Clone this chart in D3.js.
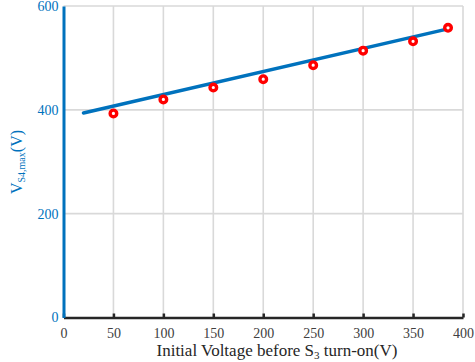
<!DOCTYPE html>
<html>
<head>
<meta charset="utf-8">
<script src="https://d3js.org/d3.v7.min.js"></script>
<style>
  body { margin: 0; background: #fff; }
  text { font-family: "Liberation Serif", "Times New Roman", serif; }
</style>
</head>
<body>
<div id="chart"></div>
<script>
// measured points
var xVals = [50, 100, 150, 200, 250, 300, 350, 385];
var yVals = [393, 420, 443, 459, 486, 514, 532, 558];
// fitted line
var fitX = [20, 385];
var fitY = [394, 556];
var xTicks = [0, 50, 100, 150, 200, 250, 300, 350, 400];
var yTicks = [0, 200, 400, 600];

var W = 475, H = 362;
var blue = "#0072BD";
var svg = d3.select("#chart").append("svg").attr("width", W).attr("height", H);

var x = d3.scaleLinear().domain([0, 400]).range([63.5, 463]);
var y = d3.scaleLinear().domain([0, 600]).range([317.5, 6]);

// grid
svg.append("g").selectAll("line").data(xTicks.slice(1)).enter().append("line")
  .attr("x1", d => x(d)).attr("x2", d => x(d))
  .attr("y1", y(0)).attr("y2", y(600))
  .attr("stroke", "#d9d9d9").attr("stroke-width", 1.6);
svg.append("g").selectAll("line").data(yTicks.slice(1)).enter().append("line")
  .attr("x1", x(0)).attr("x2", x(400))
  .attr("y1", d => y(d)).attr("y2", d => y(d))
  .attr("stroke", "#d9d9d9").attr("stroke-width", 1.6);

// x axis
var xAxis = svg.append("g").attr("transform", "translate(0," + y(0) + ")")
  .call(d3.axisBottom(x).tickValues(xTicks).tickSizeInner(-4).tickSizeOuter(0).tickPadding(11));
xAxis.select(".domain").attr("stroke", "#262626").attr("stroke-width", 2.5);
xAxis.selectAll(".tick line").attr("stroke", "#262626").attr("stroke-width", 2.5);
xAxis.selectAll("text").attr("fill", "#404040").style("font-size", "14px")
  .style("font-family", "Liberation Serif");

// y axis
var yAxis = svg.append("g").attr("transform", "translate(" + x(0) + ",0)")
  .call(d3.axisLeft(y).tickValues(yTicks).tickSize(0).tickPadding(5));
yAxis.select(".domain").attr("stroke", blue).attr("stroke-width", 3);
yAxis.selectAll("text").attr("fill", blue).style("font-size", "14px")
  .style("font-family", "Liberation Serif");

// fit line
svg.append("path")
  .datum(fitX.map((d, i) => [d, fitY[i]]))
  .attr("fill", "none").attr("stroke", blue).attr("stroke-width", 3.5)
  .attr("stroke-linecap", "round")
  .attr("d", d3.line().x(d => x(d[0])).y(d => y(d[1])));

// markers
svg.append("g").selectAll("circle").data(xVals).enter().append("circle")
  .attr("cx", d => x(d)).attr("cy", (d, i) => y(yVals[i]))
  .attr("r", 3.3).attr("fill", "#fff").attr("stroke", "#ff0000").attr("stroke-width", 3.4);

// labels
svg.append("text").attr("x", 277).attr("y", 356).attr("text-anchor", "middle")
  .attr("fill", "#262626").style("font-size", "17px")
  .html('Initial Voltage before S<tspan font-size="11px" dy="3">3</tspan><tspan dy="-3"> turn-on(V)</tspan>');

svg.append("text").attr("transform", "translate(22,162) rotate(-90)").attr("text-anchor", "middle")
  .attr("fill", blue).style("font-size", "16px")
  .html('V<tspan font-size="10px" dy="3">S4,max</tspan><tspan dy="-3">(V)</tspan>');
</script>
</body>
</html>
